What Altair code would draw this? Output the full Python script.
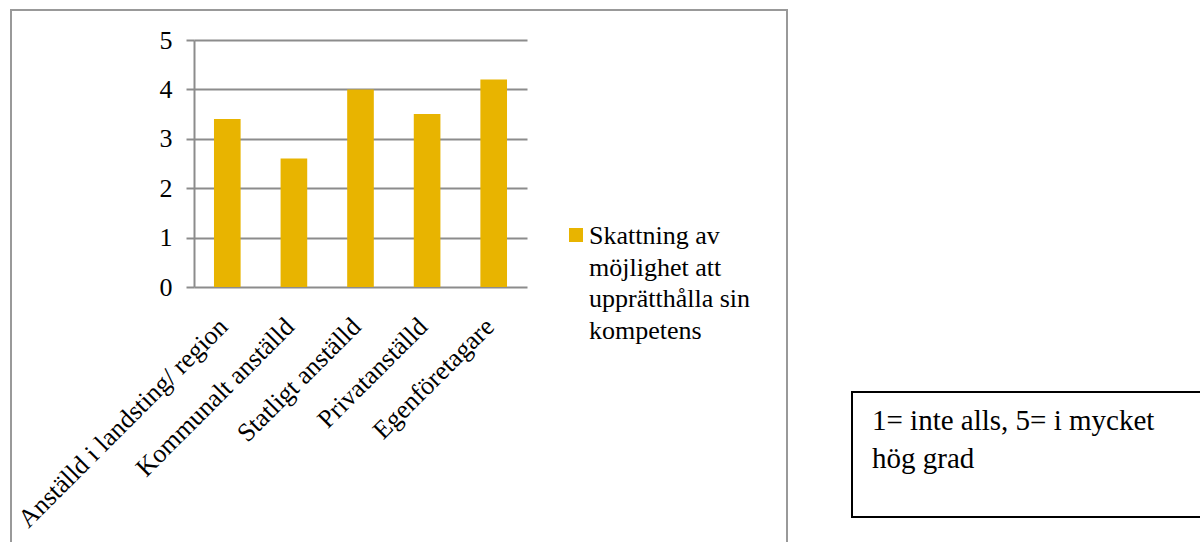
import altair as alt
import pandas as pd

categories = ["Anställd i landsting/ region", "Kommunalt anställd", "Statligt anställd",
              "Privatanställd", "Egenföretagare"]
values = [3.4, 2.6, 4.0, 3.5, 4.2]
series_name = "Skattning av möjlighet att upprätthålla sin kompetens"
legend_lines = ["Skattning av", "möjlighet att", "upprätthålla sin", "kompetens"]
y_ticks = [0, 1, 2, 3, 4, 5]
note_lines = ["1= inte alls, 5= i mycket", "hög grad"]

df = pd.DataFrame({"category": categories, "value": values, "series": series_name})
one = pd.DataFrame({"k": [0]})

FONT = "'Times New Roman', 'Liberation Serif', serif"
BAR = "#E8B400"
GRID = "#8c8c8c"
W, H = 333, 247
L, T = 194, 40

bars = alt.Chart(df).mark_bar(color=BAR).encode(
    x=alt.X("category:N", sort=categories,
            scale=alt.Scale(paddingInner=0.6, paddingOuter=0.3),
            axis=alt.Axis(title=None, labelAngle=-45, labelAlign="right", labelBaseline="top",
                          labelFont=FONT, labelFontSize=26, labelColor="black", ticks=False,
                          domain=False, labelPadding=26, labelLimit=500, labelOffset=-13)),
    y=alt.Y("value:Q", scale=alt.Scale(domain=[0, 5], nice=False),
            axis=alt.Axis(title=None, values=y_ticks, grid=True, gridColor=GRID, gridWidth=2,
                          gridOpacity=1, domainColor=GRID, domainWidth=2, tickColor=GRID,
                          tickWidth=2, tickSize=8, labelFont=FONT, labelFontSize=26,
                          labelColor="black", labelPadding=14)),
)

outer = alt.Chart(one).mark_rect(fill=None, fillOpacity=0, stroke="#999999", strokeWidth=2).encode(
    x=alt.value(11 - L), x2=alt.value(787 - L), y=alt.value(10 - T), y2=alt.value(600 - T))

legend_sym = alt.Chart(one).mark_square(color=BAR, opacity=1, size=196).encode(
    x=alt.value(576 - L), y=alt.value(235 - T))

legend_txt = alt.Chart(one).mark_text(align="left", baseline="alphabetic", font=FONT,
                                      fontSize=26, lineHeight=31.5, color="black").encode(
    x=alt.value(589 - L), y=alt.value(244 - T), text=alt.value(legend_lines))

note_box = alt.Chart(one).mark_rect(fill=None, fillOpacity=0, stroke="black", strokeWidth=2).encode(
    x=alt.value(852 - L), x2=alt.value(1230 - L), y=alt.value(392 - T), y2=alt.value(517 - T))

note_txt = alt.Chart(one).mark_text(align="left", baseline="alphabetic", font=FONT,
                                    fontSize=29, lineHeight=38, color="black").encode(
    x=alt.value(872 - L), y=alt.value(430 - T), text=alt.value(note_lines))

chart = alt.layer(outer, bars, legend_sym, legend_txt, note_box, note_txt).properties(
    width=W, height=H, autosize="none", background="white",
    padding={"left": L, "top": T, "right": 1200 - L - W, "bottom": 542 - T - H},
).configure(font=FONT).configure_text(font=FONT).configure_view(stroke=None)

chart.save("out.html", embed_options={"renderer": "svg", "actions": False})
